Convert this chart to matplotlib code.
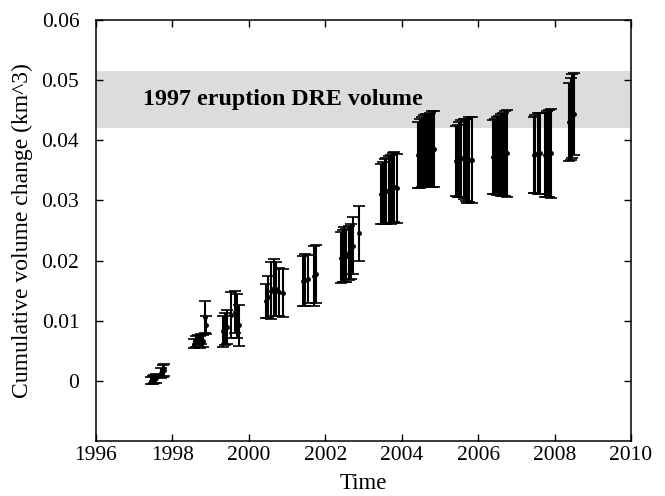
import matplotlib
matplotlib.use("Agg")
import matplotlib.pyplot as plt
from matplotlib.ticker import FuncFormatter

# survey epochs (decimal year), cumulative volume change (km^3) and 1-sigma errors
times = [
    1997.45, 1997.49, 1997.53, 1997.57, 1997.70, 1997.74, 1997.78,
    1998.57, 1998.62, 1998.66, 1998.71, 1998.75, 1998.79, 1998.85, 1998.87,
    1999.33, 1999.38, 1999.42, 1999.54, 1999.63, 1999.69, 1999.75,
    2000.45, 2000.51, 2000.59, 2000.66, 2000.72, 2000.78, 2000.89,
    2001.42, 2001.47, 2001.54, 2001.70, 2001.75,
    2002.40, 2002.45, 2002.50, 2002.55, 2002.61, 2002.67, 2002.73, 2002.87,
    2003.45, 2003.50, 2003.55, 2003.60, 2003.66, 2003.71, 2003.76, 2003.81, 2003.87,
    2004.42, 2004.47, 2004.53, 2004.58, 2004.63, 2004.68, 2004.74, 2004.79, 2004.84,
    2005.41, 2005.46, 2005.51, 2005.56, 2005.62, 2005.67, 2005.72, 2005.77, 2005.84,
    2006.38, 2006.44, 2006.49, 2006.54, 2006.59, 2006.64, 2006.70, 2006.76,
    2007.45, 2007.50, 2007.56, 2007.61, 2007.75, 2007.80, 2007.85, 2007.91,
    2008.38, 2008.42, 2008.46, 2008.50,
]
volumes = [
    0.0000, 0.0001, 0.0003, 0.0004, 0.0013, 0.0016, 0.0018,
    0.0062, 0.0065, 0.0068, 0.0064, 0.0070, 0.0066, 0.0106, 0.0093,
    0.0082, 0.0086, 0.0090, 0.0110, 0.0115, 0.0108, 0.0092,
    0.0133, 0.0140, 0.0150, 0.0155, 0.0153, 0.0148, 0.0146,
    0.0166, 0.0168, 0.0170, 0.0174, 0.0178,
    0.0205, 0.0207, 0.0210, 0.0208, 0.0212, 0.0215, 0.0225, 0.0245,
    0.0310, 0.0312, 0.0315, 0.0316, 0.0318, 0.0318, 0.0320, 0.0322, 0.0320,
    0.0375, 0.0378, 0.0380, 0.0382, 0.0383, 0.0382, 0.0384, 0.0385, 0.0386,
    0.0365, 0.0366, 0.0368, 0.0370, 0.0369, 0.0367, 0.0366, 0.0368, 0.0367,
    0.0372, 0.0373, 0.0374, 0.0375, 0.0376, 0.0377, 0.0378, 0.0378,
    0.0375, 0.0377, 0.0378, 0.0378, 0.0376, 0.0377, 0.0378, 0.0378,
    0.0430, 0.0435, 0.0440, 0.0444,
]
errors = [
    0.0006, 0.0007, 0.0007, 0.0008, 0.0009, 0.0010, 0.0010,
    0.0008, 0.0009, 0.0009, 0.0010, 0.0008, 0.0010, 0.0027, 0.0015,
    0.0025, 0.0027, 0.0028, 0.0038, 0.0035, 0.0037, 0.0034,
    0.0028, 0.0035, 0.0048, 0.0047, 0.0045, 0.0040, 0.0040,
    0.0042, 0.0043, 0.0040, 0.0050, 0.0048,
    0.0042, 0.0043, 0.0045, 0.0044, 0.0045, 0.0046, 0.0047, 0.0045,
    0.0050, 0.0052, 0.0054, 0.0055, 0.0056, 0.0057, 0.0058, 0.0058, 0.0057,
    0.0055, 0.0057, 0.0058, 0.0060, 0.0061, 0.0060, 0.0062, 0.0063, 0.0063,
    0.0058, 0.0060, 0.0062, 0.0064, 0.0066, 0.0068, 0.0070, 0.0070, 0.0071,
    0.0062, 0.0063, 0.0065, 0.0066, 0.0068, 0.0069, 0.0071, 0.0072,
    0.0063, 0.0065, 0.0067, 0.0068, 0.0070, 0.0072, 0.0073, 0.0074,
    0.0065, 0.0068, 0.0070, 0.0068,
]

# 1997 eruption dense-rock-equivalent volume range
dre_low = 0.042
dre_high = 0.0515
dre_label = '1997 eruption DRE volume'

plt.rcParams['font.family'] = ['Liberation Serif', 'DejaVu Serif']

fig = plt.figure(figsize=(6.65, 4.96), dpi=100)
ax = fig.add_axes([0.1444, 0.111, 0.8045, 0.8487])

ax.axhspan(dre_low, dre_high, color='#dcdcdc', zorder=0, lw=0)
ax.text(1997.23, 0.0468, dre_label, fontsize=17.3, fontweight='bold',
        va='center', ha='left')

ax.errorbar(times, volumes, yerr=errors, fmt='.', color='k', ms=5,
            elinewidth=1.5, capsize=4, capthick=1.2)

ax.set_xlim(1996, 2010)
ax.set_ylim(-0.01, 0.06)
ax.set_xticks(range(1996, 2011, 2))
ax.set_yticks([0, 0.01, 0.02, 0.03, 0.04, 0.05, 0.06])
ax.yaxis.set_major_formatter(FuncFormatter(lambda v, p: '%g' % round(v, 3)))
ax.tick_params(direction='in', top=True, right=True, length=5, width=1,
               labelsize=15.5)
ax.tick_params(axis='y', pad=12)
for s in ax.spines.values():
    s.set_linewidth(1.1)

ax.set_xlabel('Time', fontsize=16.5, labelpad=6)
ax.set_ylabel('Cumulative volume change (km^3)', fontsize=17, labelpad=6)

fig.savefig('out.png', dpi=100)
